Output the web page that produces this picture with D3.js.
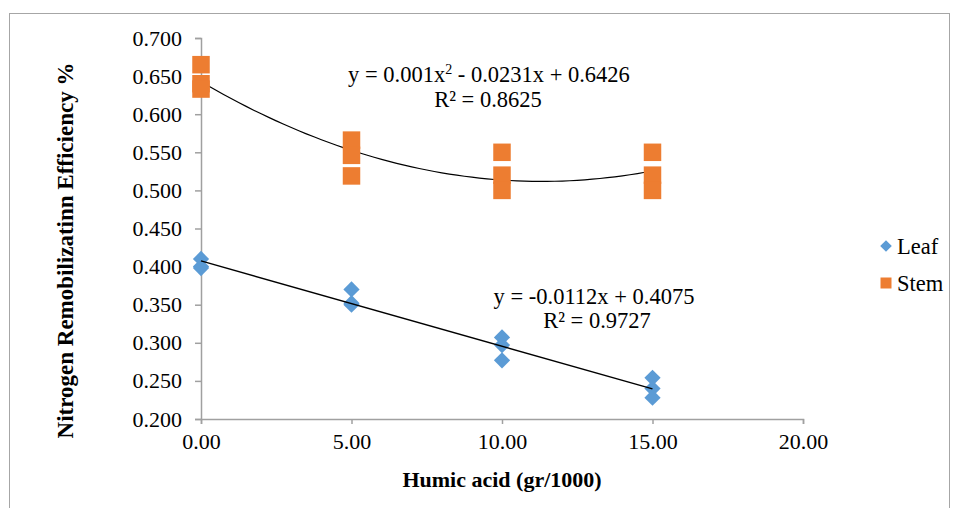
<!DOCTYPE html>
<html>
<head>
<meta charset="utf-8">
<script src="https://cdn.jsdelivr.net/npm/d3@7"></script>
<style>
    body { margin: 0; background: #fff; }
    svg { display: block; font-family: "Liberation Serif", "Times New Roman", serif; }
</style>
</head>
<body>
<div id="container"></div>
<script>
// data
const humic = [0, 0, 0, 5, 5, 5, 10, 10, 10, 15, 15, 15];
const leafValues = [0.410, 0.400, 0.398, 0.370, 0.352, 0.350, 0.307, 0.297, 0.277, 0.254, 0.240, 0.228];
const stemValues = [0.665, 0.640, 0.633, 0.566, 0.546, 0.519, 0.550, 0.520, 0.500, 0.550, 0.520, 0.500];
const xTicks = [0, 5, 10, 15, 20];
const yTicks = [0.2, 0.25, 0.3, 0.35, 0.4, 0.45, 0.5, 0.55, 0.6, 0.65, 0.7];
const leafFit = [0.4075, -0.0112];          // a + b x
const stemFit = [0.6426, -0.0231, 0.00102]; // a + b x + c x^2 (label shows c rounded to 0.001)

const width = 957;
const height = 508;
const margin = { left: 201, right: 154, top: 38, bottom: 89 };

const svg = d3.select('#container')
    .append('svg')
    .attr('width', width)
    .attr('height', height);

// chart border
svg.append('rect')
    .attr('x', 9.5).attr('y', 13.5)
    .attr('width', 940).attr('height', 500)
    .attr('fill', 'none')
    .attr('stroke', '#a6a6a6')
    .attr('stroke-width', 1);

const x = d3.scaleLinear().domain([0, 20]).range([margin.left, width - margin.right]);
const y = d3.scaleLinear().domain([0.2, 0.7]).range([height - margin.bottom, margin.top]);

const fmt = d3.format('.3f');
const fmtX = d3.format('.2f');

const yAxis = svg.append('g')
    .attr('transform', `translate(${x(0)},0)`)
    .call(d3.axisLeft(y).tickValues(yTicks).tickFormat(fmt).tickSize(6).tickPadding(13));

const xAxis = svg.append('g')
    .attr('transform', `translate(0,${y(0.2)})`)
    .call(d3.axisBottom(x).tickValues(xTicks).tickFormat(fmtX).tickSize(5).tickPadding(9));

[xAxis, yAxis].forEach(g => {
    g.select('.domain').attr('stroke', '#a0a0a0').attr('stroke-width', 1.5);
    g.selectAll('.tick line').attr('stroke', '#a0a0a0').attr('stroke-width', 1.5);
    g.selectAll('.tick text')
        .attr('fill', '#000')
        .style('font-size', '22px')
        .style('font-family', '"Liberation Serif", "Times New Roman", serif');
});

// trend lines
const xs = d3.range(0, 15.01, 0.25);
const line = d3.line().x(d => x(d[0])).y(d => y(d[1]));

svg.append('path')
    .datum(xs.map(v => [v, stemFit[0] + stemFit[1] * v + stemFit[2] * v * v]))
    .attr('d', line)
    .attr('fill', 'none')
    .attr('stroke', '#000')
    .attr('stroke-width', 1.2);

// markers
const squareSym = d3.symbol().type(d3.symbolSquare).size(17.5 * 17.5);
const diamondSym = d3.symbol().type(d3.symbolSquare).size(11.5 * 11.5);

svg.append('g')
    .selectAll('path')
    .data(humic.map((h, i) => [h, stemValues[i]]))
    .join('path')
    .attr('d', squareSym)
    .attr('transform', d => `translate(${x(d[0])},${y(d[1])})`)
    .attr('fill', '#ed7d31');

svg.append('g')
    .selectAll('path')
    .data(humic.map((h, i) => [h, leafValues[i]]))
    .join('path')
    .attr('d', diamondSym)
    .attr('transform', d => `translate(${x(d[0])},${y(d[1])}) rotate(45)`)
    .attr('fill', '#5b9bd5');

svg.append('path')
    .datum([0, 15].map(v => [v, leafFit[0] + leafFit[1] * v]))
    .attr('d', line)
    .attr('fill', 'none')
    .attr('stroke', '#000')
    .attr('stroke-width', 1.5);

// equations
const eq = svg.append('g').style('font-size', '22.5px').attr('fill', '#000');
const stemEq = eq.append('text').attr('x', 489).attr('y', 82).attr('text-anchor', 'middle');
stemEq.append('tspan').text('y = 0.001x');
stemEq.append('tspan').text('2').attr('dy', -8).style('font-size', '14px');
stemEq.append('tspan').text(' - 0.0231x + 0.6426').attr('dy', 8);
eq.append('text').attr('x', 488).attr('y', 107).attr('text-anchor', 'middle').text('R² = 0.8625');
eq.append('text').attr('x', 594).attr('y', 304).attr('text-anchor', 'middle').text('y = -0.0112x + 0.4075');
eq.append('text').attr('x', 597).attr('y', 328).attr('text-anchor', 'middle').text('R² = 0.9727');

// axis titles
svg.append('text')
    .attr('x', (x(0) + x(20)) / 2)
    .attr('y', 487)
    .attr('text-anchor', 'middle')
    .style('font-size', '22px')
    .style('font-weight', 'bold')
    .text('Humic acid (gr/1000)');

svg.append('text')
    .attr('transform', `translate(73,${(y(0.2) + y(0.7)) / 2 + 22}) rotate(-90)`)
    .attr('text-anchor', 'middle')
    .style('font-size', '23px')
    .style('font-weight', 'bold')
    .text('Nitrogen Remobilizatinn Efficiency %');

// legend
const legendItems = [
    { name: 'Leaf', color: '#5b9bd5', sym: d3.symbol().type(d3.symbolSquare).size(8.2 * 8.2), rot: 45 },
    { name: 'Stem', color: '#ed7d31', sym: d3.symbol().type(d3.symbolSquare).size(11 * 11), rot: 0 }
];
const legend = svg.append('g')
    .selectAll('g')
    .data(legendItems)
    .join('g')
    .attr('transform', (d, i) => `translate(886,${246 + i * 37})`);
legend.append('path')
    .attr('d', d => d.sym())
    .attr('transform', d => `rotate(${d.rot})`)
    .attr('fill', d => d.color);
legend.append('text')
    .attr('x', 11)
    .attr('y', 8)
    .style('font-size', '22.5px')
    .text(d => d.name);
</script>
</body>
</html>
